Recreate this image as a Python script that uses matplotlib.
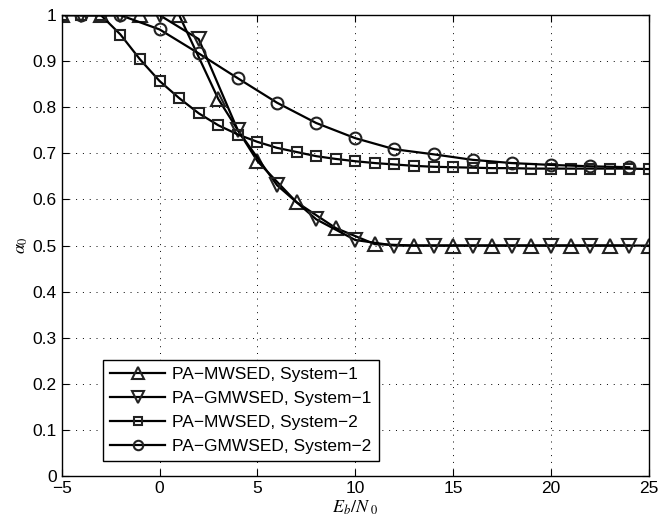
import numpy as np
import matplotlib
matplotlib.use("Agg")
import matplotlib.pyplot as plt

plt.rcParams['font.family'] = ['Liberation Sans', 'DejaVu Sans']
plt.rcParams['mathtext.fontset'] = 'stix'

# --- data ---
x_mw1 = [-5, -3, -1, 1, 3, 5, 7, 9, 11, 13, 15, 17, 19, 21, 23, 25]
y_mw1 = [1.0, 1.0, 1.0, 1.0, 0.818, 0.683, 0.594, 0.538, 0.503,
         0.5, 0.5, 0.5, 0.5, 0.5, 0.5, 0.5]

x_gmw1 = [-4, -2, 0, 2, 4, 6, 8, 10, 12, 14, 16, 18, 20, 22, 24]
y_gmw1 = [1.0, 1.0, 1.0, 0.948, 0.75, 0.631, 0.557, 0.512,
          0.5, 0.5, 0.5, 0.5, 0.5, 0.5, 0.5]

x_mw2 = list(range(-5, 26))
y_mw2 = [1.0, 1.0, 1.0, 0.958, 0.904, 0.857, 0.82, 0.787, 0.761, 0.741,
         0.725, 0.712, 0.703, 0.694, 0.688, 0.683, 0.679, 0.676, 0.673,
         0.671, 0.670, 0.669, 0.668, 0.668, 0.667, 0.667, 0.667, 0.667,
         0.667, 0.667, 0.666]

x_gmw2 = [-4, -2, 0, 2, 4, 6, 8, 10, 12, 14, 16, 18, 20, 22, 24]
y_gmw2 = [1.0, 1.0, 0.969, 0.917, 0.863, 0.810, 0.766, 0.733, 0.709,
          0.698, 0.686, 0.679, 0.675, 0.672, 0.670]

labels = ['PA\u2212MWSED, System\u22121', 'PA\u2212GMWSED, System\u22121',
          'PA\u2212MWSED, System\u22122', 'PA\u2212GMWSED, System\u22122']

fig = plt.figure(figsize=(6.71, 5.23), dpi=100)
ax = fig.add_axes([0.092, 0.090, 0.875, 0.881])

style = dict(color='black', lw=1.6, mec='#222222', mew=1.5, mfc='none')
ax.plot(x_mw1, y_mw1, marker='^', ms=10, label=labels[0], **style)
ax.plot(x_gmw1, y_gmw1, marker='v', ms=10, label=labels[1], **style)
ax.plot(x_mw2, y_mw2, marker='s', ms=6.5, label=labels[2], **style)
ax.plot(x_gmw2, y_gmw2, marker='o', ms=8.5, label=labels[3], **style)

ax.set_xlim(-5, 25)
ax.set_ylim(0, 1)
ax.set_xticks(np.arange(-5, 26, 5))
ax.set_yticks(np.arange(0, 1.01, 0.1))
ax.set_yticklabels(['0', '0.1', '0.2', '0.3', '0.4', '0.5', '0.6',
                    '0.7', '0.8', '0.9', '1'])
ax.tick_params(direction='in', top=True, right=True, labelsize=12.5,
               length=5, width=0.8)
ax.grid(True, color='black', linestyle=(0, (1, 6)), linewidth=0.7)
for sp in ax.spines.values():
    sp.set_linewidth(1.0)

ax.set_xlabel(r'$E_b/N_{\ 0}$', fontsize=13, labelpad=2)
ax.set_ylabel(r'$\alpha_0$', fontsize=13, labelpad=2)

leg = ax.legend(loc='lower left', bbox_to_anchor=(0.070, 0.033),
                fontsize=12.5, handlelength=3.2, handletextpad=0.4,
                labelspacing=0.5, borderpad=0.4, borderaxespad=0,
                markerscale=0.8, fancybox=False, framealpha=1,
                edgecolor='black')
leg.get_frame().set_linewidth(1.0)

fig.savefig('out.png', dpi=100)
